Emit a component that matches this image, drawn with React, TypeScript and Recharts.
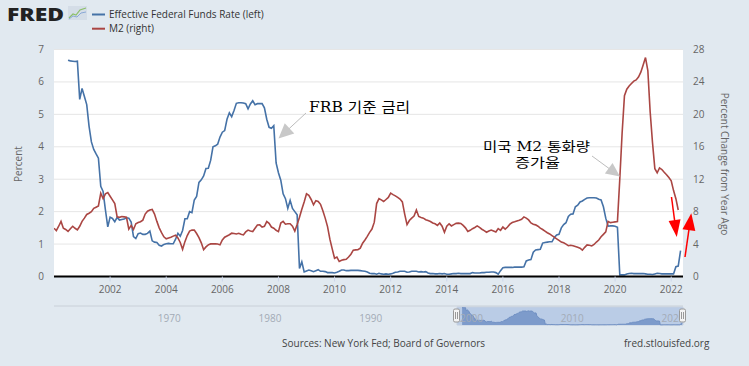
import React from 'react';
import { ComposedChart, Line, XAxis, YAxis, CartesianGrid, Area, ReferenceArea } from 'recharts';

// Effective Federal Funds Rate, monthly, Jul 2000 – May 2022 (percent, left axis)
const effrStart: [number, number] = [2000, 7];
const effr: number[] = [
  6.67, 6.65, 6.64, 6.63, 6.64, 5.46,
  5.8, 5.55, 5.3, 4.63, 4.15, 3.92, 3.78, 3.65, 2.78, 2.62, 2.05, 1.53,
  1.83, 1.79, 1.69, 1.82, 1.74, 1.76, 1.77, 1.81, 1.8, 1.68, 1.23, 1.17,
  1.32, 1.34, 1.3, 1.3, 1.33, 1.4, 1.1, 1.06, 1.05, 0.96, 0.94, 0.99,
  1.01, 1.02, 1.01, 1.01, 1.15, 1.33, 1.24, 1.42, 1.78, 1.78, 2.0, 1.97,
  2.36, 2.47, 2.9, 2.98, 3.1, 3.33, 3.34, 3.58, 4.0, 4.03, 4.08, 4.3,
  4.45, 4.5, 4.85, 5.05, 4.93, 5.12, 5.34, 5.36, 5.36, 5.35, 5.33, 5.17,
  5.32, 5.42, 5.3, 5.33, 5.33, 5.33, 5.2, 4.85, 4.6, 4.57, 4.65, 3.5,
  3.2, 2.97, 2.55, 2.4, 2.1, 2.35, 2.1, 2.0, 1.9, 0.25, 0.45, 0.14,
  0.17, 0.2, 0.18, 0.15, 0.18, 0.21, 0.16, 0.16, 0.15, 0.12, 0.12, 0.12,
  0.11, 0.13, 0.16, 0.2, 0.2, 0.18, 0.18, 0.19, 0.19, 0.19, 0.19, 0.18,
  0.17, 0.16, 0.14, 0.1, 0.09, 0.09, 0.07, 0.1, 0.08, 0.07, 0.08, 0.07,
  0.08, 0.1, 0.13, 0.14, 0.16, 0.16, 0.16, 0.13, 0.14, 0.16, 0.16, 0.16,
  0.14, 0.15, 0.14, 0.15, 0.11, 0.09, 0.09, 0.08, 0.08, 0.09, 0.08, 0.09,
  0.07, 0.07, 0.08, 0.09, 0.09, 0.1, 0.09, 0.09, 0.09, 0.09, 0.09, 0.12,
  0.11, 0.11, 0.11, 0.12, 0.12, 0.13, 0.13, 0.14, 0.14, 0.12, 0.07, 0.18,
  0.27, 0.28, 0.28, 0.28, 0.28, 0.29, 0.29, 0.29, 0.29, 0.3, 0.48, 0.51,
  0.52, 0.75, 0.82, 0.83, 0.84, 1.03, 1.05, 1.06, 1.07, 1.07, 1.2, 1.28,
  1.3, 1.5, 1.6, 1.66, 1.85, 1.92, 1.93, 2.15, 2.2, 2.3, 2.33, 2.38,
  2.42, 2.43, 2.43, 2.43, 2.42, 2.38, 2.36, 2.15, 1.8, 1.55, 1.56, 1.56,
  1.55, 1.52, 0.05, 0.05, 0.05, 0.08, 0.09, 0.1, 0.09, 0.09, 0.09, 0.09,
  0.09, 0.08, 0.07, 0.07, 0.06, 0.08, 0.1, 0.09, 0.08, 0.08, 0.08, 0.08,
  0.08, 0.08, 0.3, 0.32, 0.8,
];

// M2, percent change from year ago, monthly, Jan 2000 – Apr 2022 (right axis)
const m2Start: [number, number] = [2000, 1];
const m2: number[] = [
  5.96, 5.66, 6.2, 6.8, 5.96, 5.8, 5.56, 5.9, 6.2, 5.95, 5.75, 6.2,
  6.8, 7.2, 7.65, 7.8, 8.0, 8.4, 8.55, 8.7, 10.28, 9.6, 10.2, 10.35,
  9.9, 9.45, 9.0, 7.35, 7.3, 7.4, 7.35, 7.3, 5.85, 6.3, 5.8, 6.5,
  6.65, 6.75, 6.95, 7.7, 8.05, 8.2, 8.28, 7.7, 6.8, 6.0, 5.4, 4.9,
  4.65, 4.75, 4.85, 4.98, 5.1, 4.75, 4.2, 3.35, 4.3, 5.05, 5.6, 5.72,
  5.72, 5.3, 4.8, 4.15, 3.3, 3.65, 3.9, 4.02, 4.02, 4.02, 4.0, 3.9,
  4.5, 4.85, 5.0, 5.15, 5.34, 5.3, 5.25, 5.33, 5.2, 5.13, 5.5, 5.72,
  5.6, 5.55, 5.95, 6.35, 6.37, 6.1, 6.2, 6.78, 6.55, 6.1, 5.95, 5.7,
  5.54, 6.6, 6.8, 6.45, 6.5, 6.5, 6.2, 5.6, 6.4, 7.3, 8.3, 9.2,
  10.2, 10.0, 9.5, 8.84, 9.35, 9.25, 8.9, 8.1, 7.2, 6.15, 4.6, 3.4,
  2.25, 2.4, 1.85, 2.0, 2.08, 2.12, 2.4, 2.75, 3.25, 3.28, 3.3, 3.5,
  4.1, 4.5, 4.95, 5.45, 5.85, 6.7, 9.0, 9.6, 9.45, 9.25, 9.5, 9.75,
  10.28, 10.1, 9.95, 9.75, 9.55, 9.2, 7.7, 6.4, 6.9, 7.2, 7.45, 8.2,
  7.4, 7.28, 7.2, 7.0, 6.9, 6.78, 6.6, 6.5, 6.3, 6.6, 6.2, 5.45,
  6.2, 6.5, 6.24, 6.4, 6.55, 6.58, 6.55, 6.3, 6.0, 5.55, 5.7, 5.9,
  6.05, 6.24, 6.05, 5.83, 5.65, 5.46, 5.6, 5.72, 5.6, 5.48, 5.9, 5.7,
  6.1, 5.85, 6.1, 6.45, 6.65, 6.75, 6.86, 6.95, 7.05, 7.35, 7.2, 6.98,
  6.6, 6.45, 6.37, 6.2, 5.96, 5.8, 5.6, 5.4, 5.25, 5.05, 4.85, 4.65,
  4.45, 4.25, 4.15, 4.0, 3.8, 3.85, 3.8, 3.7, 3.6, 3.49, 3.25, 3.6,
  3.89, 3.85, 3.77, 3.95, 4.25, 4.5, 4.9, 5.2, 5.5, 6.8, 6.65, 6.7,
  6.74, 6.78, 12.0, 17.7, 22.3, 23.1, 23.5, 23.8, 24.1, 24.25, 24.6, 25.2,
  26.1, 27.0, 25.4, 20.3, 16.5, 13.3, 12.8, 13.4, 13.2, 12.85, 12.55, 12.2,
  11.8, 10.6, 9.6, 8.2,
];

const xTicks = [2002, 2004, 2006, 2008, 2010, 2012, 2014, 2016, 2018, 2020, 2022];
const leftTicks = [0, 1, 2, 3, 4, 5, 6, 7];
const rightTicks = [0, 4, 8, 12, 16, 20, 24, 28];
const navTicks = [1970, 1980, 1990, 2000, 2010, 2020];
const X_DOMAIN: [number, number] = [2000, 2022.42];
const NAV_DOMAIN: [number, number] = [1960, 2022.42];

type Row = { t: number; effr?: number; m2?: number };

function buildRows(): Row[] {
  const map = new Map<number, Row>();
  const add = (start: [number, number], values: number[], key: 'effr' | 'm2') => {
    values.forEach((v, i) => {
      const mi = (start[0] - 2000) * 12 + (start[1] - 1) + i;
      const row = map.get(mi) || { t: 2000 + mi / 12 };
      row[key] = v;
      map.set(mi, row);
    });
  };
  add(effrStart, effr, 'effr');
  add(m2Start, m2, 'm2');
  return Array.from(map.entries()).sort((a, b) => a[0] - b[0]).map((e) => e[1]);
}

const rows = buildRows();

const FONT = '"Open Sans", "DejaVu Sans", sans-serif';
const SERIF = '"DejaVu Serif", "Liberation Serif", "Noto Sans CJK KR", serif';

function Arrow({ x1, y1, x2, y2, len, w, color, lineColor, lw }: any) {
  const dx = x2 - x1, dy = y2 - y1;
  const d = Math.hypot(dx, dy);
  const ux = dx / d, uy = dy / d;
  const bx = x2 - ux * len, by = y2 - uy * len;
  const px = -uy, py = ux;
  const pts = `${x2},${y2} ${bx + px * w / 2},${by + py * w / 2} ${bx - px * w / 2},${by - py * w / 2}`;
  return (
    <g>
      <line x1={x1} y1={y1} x2={bx + ux * 2} y2={by + uy * 2} stroke={lineColor || color} strokeWidth={lw || 1} />
      <polygon points={pts} fill={color} />
    </g>
  );
}

const NavTick = (props: any) => (
  <text x={props.x + 3} y={322} fontSize={10} fill="#a3abb6" fontFamily={FONT}>
    {props.payload.value}
  </text>
);

export default function App() {
  return (
    <div style={{ position: 'absolute', left: 0, top: 0, width: 749, height: 366, background: '#e1e9f0', overflow: 'hidden' }}>
      <div style={{ position: 'absolute', left: 0, top: 0 }}>
        <ComposedChart width={749} height={366} data={rows} margin={{ top: 49.5, right: 26, bottom: 69.5, left: 14 }}>
          <CartesianGrid yAxisId="left" vertical={false} stroke="#e6e6e6" fill="#ffffff" />
          <XAxis
            type="number"
            dataKey="t"
            domain={X_DOMAIN}
            ticks={xTicks}
            allowDataOverflow
            height={20}
            axisLine={{ stroke: '#000', strokeWidth: 2 }}
            tickLine={{ stroke: '#ccd6eb' }}
            tickSize={5}
            tickMargin={4}
            tick={{ fill: '#666', fontSize: 10, fontFamily: FONT }}
            tickFormatter={(v: number) => String(Math.round(v))}
          />
          <YAxis
            yAxisId="left"
            domain={[0, 7]}
            ticks={leftTicks}
            width={40}
            axisLine={false}
            tickLine={false}
            tickSize={0}
            tickMargin={10}
            tick={{ fill: '#666', fontSize: 10, fontFamily: FONT }}
          />
          <YAxis
            yAxisId="right"
            orientation="right"
            domain={[0, 28]}
            ticks={rightTicks}
            width={40}
            axisLine={false}
            tickLine={false}
            tickSize={0}
            tickMargin={10}
            tick={{ fill: '#666', fontSize: 10, fontFamily: FONT }}
          />
          <Line yAxisId="left" dataKey="effr" stroke="#4572a7" strokeWidth={1.6} dot={false} isAnimationActive={false} />
          <Line yAxisId="right" dataKey="m2" stroke="#aa4643" strokeWidth={1.6} dot={false} isAnimationActive={false} />
        </ComposedChart>
      </div>
      <div style={{ position: 'absolute', left: 0, top: 0 }}>
        <ComposedChart width={749} height={366} data={rows} margin={{ top: 307, right: 66, bottom: 22, left: 54 }}>
          <XAxis
            type="number"
            dataKey="t"
            domain={NAV_DOMAIN}
            ticks={navTicks}
            allowDataOverflow
            height={19}
            axisLine={false}
            tickLine={false}
            tickSize={0}
            tickMargin={0}
            tick={NavTick}
          />
          <YAxis yAxisId="nav" domain={[0, 6.9]} hide />
          <ReferenceArea yAxisId="nav" x1={2000} x2={2022.42} y1={0} y2={6.9} fill="#b3c7e4" fillOpacity={0.85} stroke="#c4d0e0" />
          <Area yAxisId="nav" dataKey="effr" stroke="#6f8fc3" strokeWidth={1} fill="#7d9bcb" fillOpacity={1} isAnimationActive={false} dot={false} />
        </ComposedChart>
      </div>
      <svg width={749} height={366} style={{ position: 'absolute', left: 0, top: 0, pointerEvents: 'none' }}>
        {/* header */}
        <text x={7} y={21} fontFamily={FONT} fontWeight={800} fontSize={18} textLength={57} lengthAdjust="spacingAndGlyphs" fill="#222">FRED</text>
        <rect x={68} y={6} width={19} height={14} fill="#d4dde7" />
        <polyline points="69,18 73,14 76,15 80,10 86,8" fill="none" stroke="#8cbf6a" strokeWidth={1.2} />
        <polyline points="69,19 73,16 77,17 81,13 86,12" fill="none" stroke="#8aa9d6" strokeWidth={1} />
        <line x1={92} x2={105} y1={14.5} y2={14.5} stroke="#4572a7" strokeWidth={2} />
        <text x={109} y={18} fontFamily={FONT} fontSize={10} fill="#333">Effective Federal Funds Rate (left)</text>
        <line x1={92} x2={105} y1={28.7} y2={28.7} stroke="#aa4643" strokeWidth={2} />
        <text x={109} y={32.2} fontFamily={FONT} fontSize={10} fill="#333">M2 (right)</text>
        {/* axis titles */}
        <text transform="translate(22,164) rotate(-90)" textAnchor="middle" fontFamily={FONT} fontSize={10} fill="#666">Percent</text>
        <text transform="translate(721,164) rotate(90)" textAnchor="middle" fontFamily={FONT} fontSize={10} fill="#666">Percent Change from Year Ago</text>
        {/* navigator decorations */}
        <line x1={54} x2={683} y1={306} y2={306} stroke="#c9d0d8" strokeWidth={1} />
        <rect x={453.5} y={309} width={6} height={13} rx={1.5} fill="#f4f4f4" stroke="#999" />
        <line x1={455.5} x2={455.5} y1={312} y2={319} stroke="#999" />
        <line x1={457.5} x2={457.5} y1={312} y2={319} stroke="#999" />
        <rect x={679.5} y={309} width={6} height={13} rx={1.5} fill="#f4f4f4" stroke="#999" />
        <line x1={681.5} x2={681.5} y1={312} y2={319} stroke="#999" />
        <line x1={683.5} x2={683.5} y1={312} y2={319} stroke="#999" />
        {/* sources */}
        <text x={282} y={346.5} fontFamily={FONT} fontSize={10} fill="#444">Sources: New York Fed; Board of Governors</text>
        <text x={624} y={346.5} fontFamily={FONT} fontSize={10} fill="#444">fred.stlouisfed.org</text>
        {/* annotations */}
        <text x={309} y={111.5} fontFamily={SERIF} fontSize={14} fill="#000" textLength={101} lengthAdjust="spacingAndGlyphs">FRB 기준 금리</text>
        <Arrow x1={306} y1={113} x2={278.5} y2={138.5} len={15} w={14} color="#c8c8c8" lineColor="#bdbdbd" lw={1} />
        <text x={483} y={151} fontFamily={SERIF} fontSize={13} fill="#000" textLength={107} lengthAdjust="spacingAndGlyphs">미국 M2 통화량</text>
        <text x={515} y={166.5} fontFamily={SERIF} fontSize={13} fill="#000" textLength={45} lengthAdjust="spacingAndGlyphs">증가율</text>
        <Arrow x1={592} y1={156} x2={620} y2={176.5} len={14} w={13} color="#c8c8c8" lineColor="#bdbdbd" lw={1} />
        <Arrow x1={671.5} y1={197} x2={676.8} y2={237} len={17} w={12} color="#ff0000" lw={1.5} />
        <Arrow x1={685} y1={257} x2={691.3} y2={213.3} len={17} w={13} color="#ff0000" lw={1.5} />
      </svg>
    </div>
  );
}
